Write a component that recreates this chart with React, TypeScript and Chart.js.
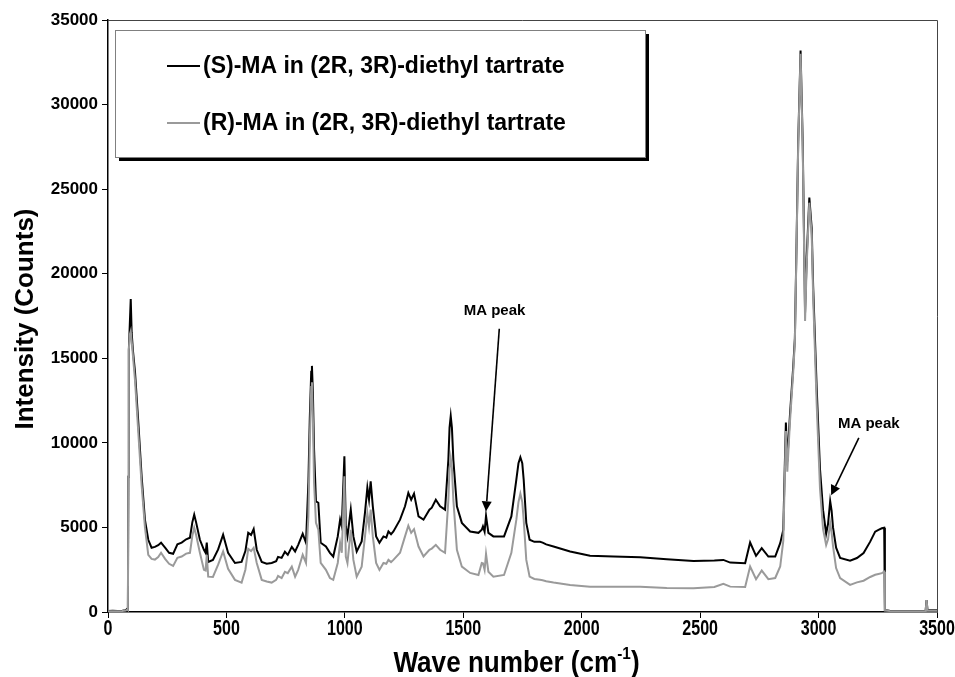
import React, { useEffect, useRef } from 'react';
import { Chart, registerables } from 'chart.js';

Chart.register(...registerables);

// Raman shift (cm-1)
const wavenumbers = [
  0, 20, 40, 60, 75, 82, 84, 86, 88, 92,
  96, 100, 105, 114, 128, 142, 156, 170, 184, 198,
  212, 224, 241, 258, 275, 293, 311, 330, 346, 356,
  364, 372, 388, 405, 412, 417, 423, 443, 465, 486,
  507, 536, 564, 580, 592, 604, 615, 628, 649, 670,
  691, 710, 718, 733, 747, 759, 776, 790, 803, 822,
  836, 846, 852, 858, 861, 865, 870, 878, 888, 898,
  920, 937, 951, 970, 980, 987, 998, 1004, 1011, 1025,
  1036, 1050, 1071, 1085, 1095, 1102, 1109, 1118, 1132, 1146,
  1163, 1175, 1184, 1195, 1205, 1233, 1254, 1268, 1280, 1292,
  1311, 1332, 1357, 1367, 1384, 1402, 1423, 1437, 1442, 1447,
  1452, 1458, 1473, 1494, 1529, 1564, 1578, 1583, 1590, 1596,
  1606, 1627, 1672, 1703, 1724, 1733, 1741, 1749, 1755, 1766,
  1780, 1800, 1824, 1835, 1850, 1881, 1951, 2035, 2134, 2247,
  2359, 2472, 2560, 2598, 2627, 2690, 2711, 2736, 2760, 2788,
  2817, 2838, 2851, 2857, 2862, 2868, 2879, 2893, 2900, 2907,
  2914, 2924, 2933, 2939, 2943, 2950, 2961, 2971, 2977, 2992,
  3006, 3019, 3032, 3040, 3049, 3055, 3061, 3074, 3091, 3133,
  3162, 3190, 3218, 3239, 3253, 3267, 3277, 3280, 3300, 3400,
  3452, 3456, 3460, 3500,
];

// (S)-MA in (2R, 3R)-diethyl tartrate
const sIntensity = [
  60, 70, 60, 80, 100, 200, 150, 8000, 15500, 17000,
  18500, 16500, 15500, 14200, 11200, 8000, 5450, 4270, 3800, 3850,
  3950, 4100, 3800, 3500, 3440, 4000, 4100, 4300, 4390, 5300,
  5750, 5300, 4270, 3680, 3500, 4100, 2960, 3080, 3700, 4570,
  3500, 2900, 2960, 3600, 4680, 4560, 4900, 3680, 2960, 2850,
  2900, 3000, 3260, 3200, 3560, 3380, 3850, 3580, 3970, 4620,
  4090, 7650, 11500, 14200, 14550, 13000, 9600, 6540, 6460, 4090,
  3870, 3500, 3280, 4470, 5460, 5060, 9210, 5060, 4470, 6050,
  4470, 3580, 4170, 5870, 7350, 6640, 7730, 6250, 4470, 4090,
  4470, 4400, 4760, 4600, 4760, 5460, 6250, 7040, 6640, 7000,
  5650, 5460, 6050, 6170, 6640, 6250, 6050, 9010, 10900, 11580,
  10900, 9010, 6250, 5270, 4760, 4680, 4860, 5060, 4750, 5690,
  4680, 4470, 4470, 5650, 7830, 8800, 9150, 8800, 7830, 5270,
  4270, 4150, 4150, 4100, 4000, 3870, 3580, 3320, 3280, 3240,
  3120, 3020, 3050, 3080, 2920, 2880, 4110, 3320, 3780, 3280,
  3280, 4070, 4850, 8450, 11200, 8900, 11600, 14500, 16200, 21800,
  27800, 33200, 27800, 21800, 17700, 21000, 24500, 22700, 19300, 13250,
  8450, 6020, 4630, 5200, 6560, 6000, 5000, 3800, 3200, 3030,
  3190, 3490, 4160, 4750, 4860, 4950, 4980, 100, 80, 60,
  80, 700, 100, 100,
];

// (R)-MA in (2R, 3R)-diethyl tartrate
const rIntensity = [
  40, 50, 40, 60, 80, 150, 120, 8000, 15500, 16400,
  16600, 16000, 15200, 13700, 10600, 7500, 5000, 3380, 3140, 3100,
  3250, 3500, 3140, 2850, 2720, 3200, 3280, 3450, 3500, 4500,
  4980, 4550, 3500, 2490, 2450, 3380, 2090, 2070, 2800, 3580,
  2550, 1900, 1740, 2500, 3730, 3600, 3800, 2900, 1900, 1800,
  1740, 1900, 2130, 2010, 2380, 2300, 2680, 2090, 2490, 3380,
  2900, 5650, 10000, 13300, 13580, 11500, 7650, 5270, 4860, 2900,
  2490, 2010, 1900, 2900, 4090, 3500, 8020, 3280, 2900, 4860,
  3080, 2090, 2680, 4470, 5850, 5060, 6050, 4470, 2900, 2490,
  2900, 2850, 3080, 2950, 3080, 3500, 4470, 5100, 4680, 4900,
  3870, 3280, 3680, 3750, 3970, 3680, 3500, 6640, 8500, 9110,
  8500, 6640, 3680, 2680, 2310, 2190, 2900, 2880, 2490, 3440,
  2380, 2090, 2190, 3500, 5460, 6500, 7000, 6500, 5460, 3080,
  2090, 1950, 1900, 1880, 1820, 1740, 1600, 1500, 1500, 1500,
  1420, 1400, 1480, 1660, 1500, 1480, 2690, 1940, 2450, 1940,
  2010, 2690, 4200, 7800, 10700, 8300, 11200, 14200, 16000, 21600,
  27600, 33000, 27500, 21300, 17200, 20600, 24200, 22300, 18700, 12300,
  7300, 4900, 3960, 4300, 5260, 4700, 3900, 2600, 2000, 1600,
  1750, 1850, 2070, 2200, 2250, 2300, 2380, 80, 60, 50,
  60, 700, 80, 80,
];

const xTickValues = [0, 500, 1000, 1500, 2000, 2500, 3000, 3500];
const yTickValues = [0, 5000, 10000, 15000, 20000, 25000, 30000, 35000];

const seriesLabels = [
  '(S)-MA in (2R, 3R)-diethyl tartrate',
  '(R)-MA in (2R, 3R)-diethyl tartrate',
];
const seriesColors = ['#000000', '#9a9a9a'];

const xTitle = 'Wave number (cm';
const xTitleSup = '-1';
const yTitle = 'Intensity (Counts)';

// annotation: label position, arrow tail and tip (data coordinates)
const annotationText = 'MA peak';
const annotationLabels = [[1632, 17800], [3212, 11150]];
const annotationTails = [[1652, 16750], [3170, 10300]];
const annotationTips = [[1596, 5950], [3053, 6900]];

const decorPlugin = {
  id: 'decor',
  afterDraw(chart: any) {
    const ctx = chart.ctx;
    const area = chart.chartArea;
    const xs = chart.scales.x;
    const ys = chart.scales.y;
    ctx.save();

    // frame top/right
    ctx.strokeStyle = '#444';
    ctx.lineWidth = 1;
    ctx.beginPath();
    ctx.moveTo(area.left, area.top + 0.5);
    ctx.lineTo(area.right + 0.5, area.top + 0.5);
    ctx.lineTo(area.right + 0.5, area.bottom);
    ctx.stroke();

    // x tick labels (condensed)
    ctx.fillStyle = '#000';
    ctx.font = 'bold 22px "Liberation Sans", Arial, sans-serif';
    ctx.textAlign = 'center';
    ctx.textBaseline = 'middle';
    xTickValues.forEach((v) => {
      const x = xs.getPixelForValue(v);
      ctx.save();
      ctx.translate(x, area.bottom + 17);
      ctx.scale(0.73, 1);
      ctx.fillText(String(v), 0, 0);
      ctx.restore();
    });

    // legend box with shadow
    const bx = 115, by = 30, bw = 530, bh = 127;
    ctx.fillStyle = '#000';
    ctx.fillRect(bx + 4, by + 4, bw, bh);
    ctx.fillStyle = '#fff';
    ctx.fillRect(bx, by, bw, bh);
    ctx.strokeStyle = '#808080';
    ctx.lineWidth = 1;
    ctx.strokeRect(bx + 0.5, by + 0.5, bw, bh);
    const rows = [66, 123];
    ctx.font = 'bold 23px "Liberation Sans", Arial, sans-serif';
    ctx.textBaseline = 'middle';
    ctx.textAlign = 'left';
    seriesLabels.forEach((lab, i) => {
      ctx.strokeStyle = seriesColors[i];
      ctx.lineWidth = 2;
      ctx.beginPath();
      ctx.moveTo(167, rows[i]);
      ctx.lineTo(200, rows[i]);
      ctx.stroke();
      ctx.fillStyle = '#000';
      ctx.fillText(lab, 203, rows[i] + 1);
    });

    // annotations
    ctx.font = 'bold 15px "Liberation Sans", Arial, sans-serif';
    ctx.textAlign = 'center';
    ctx.textBaseline = 'middle';
    ctx.fillStyle = '#000';
    ctx.strokeStyle = '#000';
    for (let i = 0; i < annotationLabels.length; i++) {
      const lx = xs.getPixelForValue(annotationLabels[i][0]);
      const ly = ys.getPixelForValue(annotationLabels[i][1]);
      ctx.fillText(annotationText, lx, ly);
      const tx = xs.getPixelForValue(annotationTails[i][0]);
      const ty = ys.getPixelForValue(annotationTails[i][1]);
      const px = xs.getPixelForValue(annotationTips[i][0]);
      const py = ys.getPixelForValue(annotationTips[i][1]);
      const ang = Math.atan2(py - ty, px - tx);
      const headLen = 10, headW = 5;
      const bxp = px - headLen * Math.cos(ang);
      const byp = py - headLen * Math.sin(ang);
      ctx.lineWidth = 1.6;
      ctx.beginPath();
      ctx.moveTo(tx, ty);
      ctx.lineTo(bxp, byp);
      ctx.stroke();
      ctx.beginPath();
      ctx.moveTo(px, py);
      ctx.lineTo(bxp + headW * Math.sin(ang), byp - headW * Math.cos(ang));
      ctx.lineTo(bxp - headW * Math.sin(ang), byp + headW * Math.cos(ang));
      ctx.closePath();
      ctx.fill();
    }

    // x title with superscript (condensed)
    const mainFont = 'bold 29px "Liberation Sans", Arial, sans-serif';
    const supFont = 'bold 17px "Liberation Sans", Arial, sans-serif';
    ctx.textAlign = 'left';
    ctx.textBaseline = 'alphabetic';
    ctx.font = mainFont;
    const w1 = ctx.measureText(xTitle).width;
    const w3 = ctx.measureText(')').width;
    ctx.font = supFont;
    const w2 = ctx.measureText(xTitleSup).width;
    const total = w1 + w2 + w3;
    const cx = (area.left + area.right) / 2 - 6;
    ctx.save();
    ctx.translate(cx, 672);
    ctx.scale(0.9, 1);
    const x0 = -total / 2;
    ctx.font = mainFont;
    ctx.fillText(xTitle, x0, 0);
    ctx.font = supFont;
    ctx.fillText(xTitleSup, x0 + w1, -13);
    ctx.font = mainFont;
    ctx.fillText(')', x0 + w1 + w2, 0);
    ctx.restore();

    // y title
    ctx.save();
    ctx.translate(26, (area.top + area.bottom) / 2 + 3);
    ctx.rotate(-Math.PI / 2);
    ctx.font = 'bold 26px "Liberation Sans", Arial, sans-serif';
    ctx.textAlign = 'center';
    ctx.textBaseline = 'middle';
    ctx.fillText(yTitle, 0, 0);
    ctx.restore();

    ctx.restore();
  },
};

export default function App() {
  const ref = useRef<HTMLCanvasElement | null>(null);
  useEffect(() => {
    if (!ref.current) return;
    const sData = wavenumbers.map((x, i) => ({ x, y: sIntensity[i] }));
    const rData = wavenumbers.map((x, i) => ({ x, y: rIntensity[i] }));
    const chart = new Chart(ref.current, {
      type: 'line',
      data: {
        datasets: [
          {
            label: seriesLabels[1],
            data: rData,
            borderColor: seriesColors[1],
            borderWidth: 2,
            pointRadius: 0,
            tension: 0,
            fill: false,
          },
          {
            label: seriesLabels[0],
            data: sData,
            borderColor: seriesColors[0],
            borderWidth: 2,
            pointRadius: 0,
            tension: 0,
            fill: false,
          },
        ],
      },
      options: {
        responsive: false,
        animation: false,
        layout: { padding: { left: 0, top: 20, right: 18, bottom: 0 } },
        plugins: {
          legend: { display: false },
          tooltip: { enabled: false },
          title: { display: false },
        },
        scales: {
          x: {
            type: 'linear',
            min: 0,
            max: 3500,
            afterBuildTicks: (s: any) => {
              s.ticks = xTickValues.map((v) => ({ value: v }));
            },
            afterFit: (s: any) => {
              s.height = 65;
            },
            grid: { drawOnChartArea: false, drawTicks: true, tickLength: 6, color: '#000' },
            border: { display: true, color: '#000', width: 1.5 },
            ticks: { display: false },
          },
          y: {
            type: 'linear',
            min: 0,
            max: 35000,
            afterBuildTicks: (s: any) => {
              s.ticks = yTickValues.map((v) => ({ value: v }));
            },
            afterFit: (s: any) => {
              s.width = 108;
            },
            grid: { drawOnChartArea: false, drawTicks: true, tickLength: 6, color: '#000' },
            border: { display: true, color: '#000', width: 1.5 },
            ticks: {
              color: '#000',
              padding: 4,
              font: { family: '"Liberation Sans", Arial, sans-serif', size: 17, weight: 'bold' },
              callback: (v: any) => String(v),
            },
          },
        },
      },
      plugins: [decorPlugin],
    });
    return () => chart.destroy();
  }, []);
  return (
    <div style={{ position: 'absolute', left: 0, top: 0, width: 955, height: 677, background: '#fff' }}>
      <canvas ref={ref} width={955} height={677} />
    </div>
  );
}
